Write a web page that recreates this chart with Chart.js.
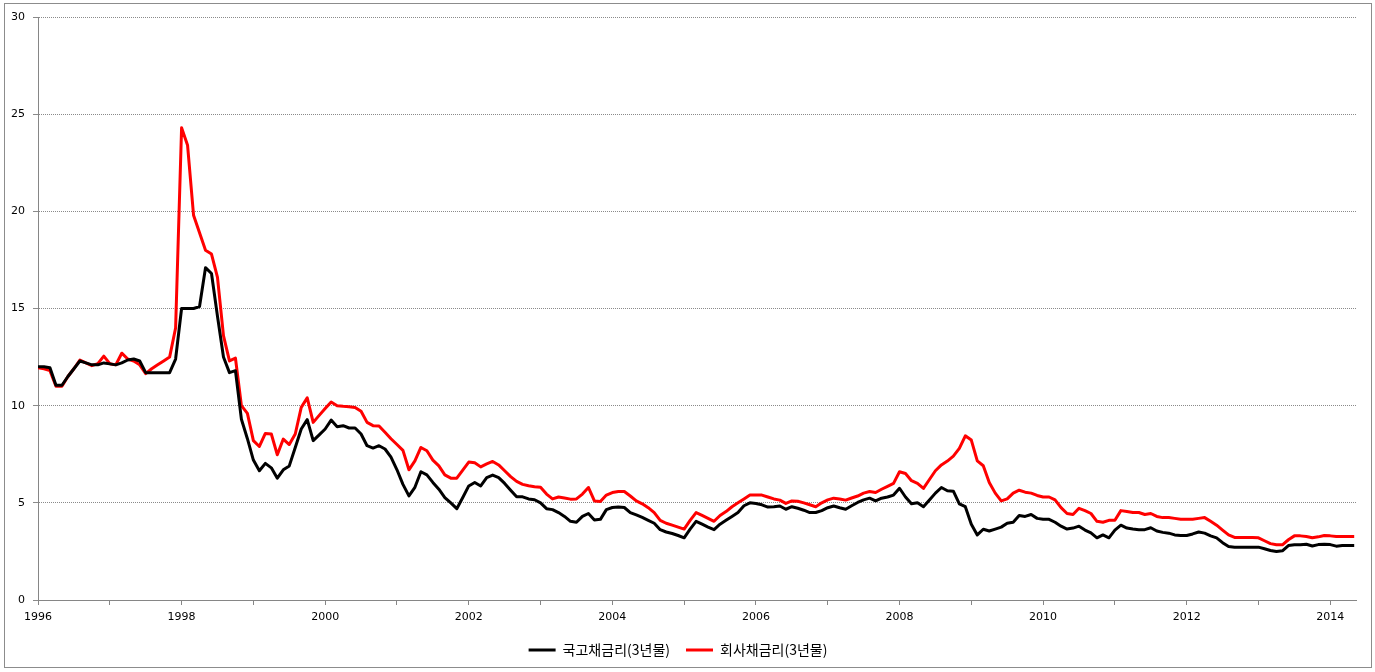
<!DOCTYPE html>
<html>
<head>
<meta charset="utf-8">
<script src="https://cdn.jsdelivr.net/npm/chart.js@4.4.0/dist/chart.umd.min.js"></script>
<style>
html, body { margin: 0; padding: 0; background: #fff; }
#wrap { position: relative; width: 1375px; height: 672px; }
#frame { position: absolute; left: 4px; top: 3px; width: 1366px; height: 663px; border: 1px solid #8c8c8c; pointer-events: none; }
</style>
</head>
<body>
<div id="wrap">
<canvas id="myChart" width="1375" height="672"></canvas>
<div id="frame"></div>
</div>
<script>
// monthly data, Jan 1996 .. May 2014
let firstYear = 1996;
let tickYears = [1996, 1998, 2000, 2002, 2004, 2006, 2008, 2010, 2012, 2014];

// 국고채금리(3년물)
let govBond = [
  12.0, 12.0, 11.95, 11.05, 11.05, 11.5, 11.9, 12.3, 12.2, 12.1, 12.1, 12.2,
  12.15, 12.1, 12.2, 12.35, 12.4, 12.3, 11.7, 11.7, 11.7, 11.7, 11.7, 12.4,
  15.0, 15.0, 15.0, 15.1, 17.1, 16.8, 14.6, 12.5, 11.7, 11.8, 9.3, 8.3,
  7.2, 6.65, 7.03, 6.8, 6.27, 6.7, 6.9, 7.85, 8.8, 9.28, 8.2, 8.5,
  8.8, 9.26, 8.92, 8.97, 8.85, 8.85, 8.54, 7.94, 7.82, 7.94, 7.77, 7.35,
  6.7, 5.95, 5.36, 5.8, 6.6, 6.44, 6.05, 5.7, 5.27, 5.0, 4.7, 5.27,
  5.87, 6.05, 5.87, 6.3, 6.43, 6.3, 6.0, 5.65, 5.31, 5.31, 5.2, 5.16,
  5.0, 4.7, 4.65, 4.5, 4.3, 4.05, 4.0, 4.3, 4.45, 4.12, 4.15, 4.65,
  4.76, 4.78, 4.76, 4.5, 4.38, 4.25, 4.1, 3.95, 3.62, 3.5, 3.42, 3.32,
  3.2, 3.65, 4.05, 3.9, 3.75, 3.62, 3.9, 4.1, 4.3, 4.5, 4.85, 5.0,
  4.97, 4.9, 4.78, 4.8, 4.84, 4.67, 4.8, 4.72, 4.62, 4.5, 4.5, 4.6,
  4.75, 4.84, 4.75, 4.67, 4.85, 5.02, 5.15, 5.24, 5.1, 5.24, 5.3, 5.4,
  5.75, 5.3, 4.95, 5.0, 4.8, 5.15, 5.5, 5.79, 5.62, 5.6, 4.95, 4.8,
  3.9, 3.35, 3.64, 3.55, 3.65, 3.75, 3.95, 4.0, 4.35, 4.3, 4.4, 4.2,
  4.15, 4.15, 4.0, 3.8, 3.65, 3.7, 3.8, 3.6, 3.45, 3.2, 3.35, 3.2,
  3.6, 3.85, 3.7, 3.65, 3.62, 3.62, 3.72, 3.55, 3.48, 3.44, 3.35, 3.32,
  3.32, 3.4, 3.5, 3.44, 3.3, 3.2, 2.95, 2.75, 2.71, 2.71, 2.71, 2.72,
  2.72, 2.64, 2.55, 2.5, 2.53, 2.8, 2.84, 2.84, 2.87, 2.78, 2.85, 2.87,
  2.85, 2.77, 2.8, 2.8, 2.8
];

// 회사채금리(3년물)
let corpBond = [
  11.95, 11.9, 11.8, 11.0, 11.0, 11.5, 11.9, 12.35, 12.2, 12.06, 12.16, 12.55,
  12.16, 12.1, 12.7, 12.4, 12.3, 12.1, 11.65, 11.9, 12.1, 12.3, 12.5, 14.0,
  24.3, 23.4, 19.8, 18.9, 18.0, 17.8, 16.6, 13.6, 12.3, 12.45, 10.0, 9.6,
  8.2, 7.9, 8.57, 8.54, 7.47, 8.28, 8.0, 8.54, 9.91, 10.4, 9.14, 9.5,
  9.85, 10.19, 10.0, 9.97, 9.95, 9.91, 9.71, 9.14, 8.97, 8.95, 8.63, 8.3,
  8.0, 7.7, 6.7, 7.16, 7.85, 7.68, 7.2, 6.9, 6.44, 6.27, 6.27, 6.68,
  7.1, 7.06, 6.85, 7.0, 7.13, 6.95, 6.65, 6.35, 6.1, 5.95, 5.88, 5.83,
  5.8, 5.45, 5.2, 5.3, 5.25, 5.19, 5.2, 5.45, 5.79, 5.1, 5.07, 5.4,
  5.53, 5.58, 5.58, 5.35, 5.1, 4.95, 4.75, 4.5, 4.1, 3.95, 3.85, 3.75,
  3.65, 4.1, 4.5, 4.35, 4.2, 4.05, 4.35, 4.55, 4.8, 5.0, 5.2, 5.4,
  5.4, 5.4, 5.3, 5.2, 5.14, 4.97, 5.1, 5.08, 5.0, 4.9, 4.8, 5.0,
  5.15, 5.24, 5.2, 5.14, 5.25, 5.35, 5.5, 5.58, 5.53, 5.7, 5.85, 6.0,
  6.6, 6.51, 6.14, 6.0, 5.74, 6.2, 6.65, 6.95, 7.15, 7.4, 7.8, 8.45,
  8.23, 7.16, 6.91, 6.05, 5.5, 5.1, 5.2, 5.5, 5.65, 5.55, 5.5, 5.38,
  5.3, 5.3, 5.15, 4.75, 4.45, 4.4, 4.72, 4.6, 4.45, 4.05, 4.0, 4.1,
  4.1, 4.6, 4.55, 4.5, 4.5, 4.4, 4.45, 4.3, 4.24, 4.24, 4.2, 4.16,
  4.16, 4.16, 4.2, 4.24, 4.05, 3.85, 3.6, 3.35, 3.22, 3.22, 3.22, 3.22,
  3.2, 3.05, 2.9, 2.84, 2.84, 3.1, 3.3, 3.3, 3.27, 3.2, 3.25, 3.32,
  3.3, 3.27, 3.27, 3.27, 3.27
];

let months = govBond.map((v, i) => (firstYear + Math.floor(i / 12)) + '-' + String(i % 12 + 1).padStart(2, '0'));

let tickFont = { family: "'DejaVu Sans', sans-serif", size: 11 };

let ctx = document.getElementById('myChart').getContext('2d');

let chart = new Chart(ctx, {
    type: 'line',
    data: {
        labels: months,
        datasets: [{
            label: '국고채금리(3년물)',
            data: govBond.map((v, i) => ({ x: i, y: v })),
            borderColor: '#000000',
            backgroundColor: '#000000',
            borderWidth: 3
        }, {
            label: '회사채금리(3년물)',
            data: corpBond.map((v, i) => ({ x: i, y: v })),
            borderColor: '#ff0000',
            backgroundColor: '#ff0000',
            borderWidth: 3
        }]
    },
    options: {
        responsive: false,
        animation: false,
        devicePixelRatio: 1,
        layout: { padding: { top: 17, right: 19, bottom: 5, left: 0 } },
        elements: {
            point: { radius: 0 },
            line: { tension: 0, borderJoinStyle: 'round' }
        },
        plugins: {
            legend: {
                position: 'bottom',
                labels: {
                    usePointStyle: true,
                    pointStyle: 'line',
                    pointStyleWidth: 27,
                    padding: 16,
                    color: '#000',
                    font: { family: "'Noto Sans CJK KR', sans-serif", size: 14 }
                }
            },
            tooltip: { enabled: false }
        },
        scales: {
            x: {
                type: 'linear',
                min: 0,
                max: 220.3,
                afterFit: (s) => { s.height = 27; },
                ticks: {
                    stepSize: 12,
                    includeBounds: false,
                    autoSkip: false,
                    maxRotation: 0,
                    padding: 6,
                    color: '#000',
                    font: tickFont,
                    callback: (v) => {
                        let year = firstYear + v / 12;
                        return tickYears.includes(year) ? String(year) : '';
                    }
                },
                grid: { drawOnChartArea: false, drawTicks: true, tickLength: 5, color: '#868686' },
                border: { color: '#868686', width: 1 }
            },
            y: {
                min: 0,
                max: 30,
                afterFit: (s) => { s.width = 38; },
                ticks: { stepSize: 5, padding: 8, color: '#000', font: tickFont },
                grid: { color: '#8a8a8a', tickLength: 5 },
                border: { color: '#868686', width: 1, dash: [1, 1] }
            }
        }
    }
});
</script>
</body>
</html>
